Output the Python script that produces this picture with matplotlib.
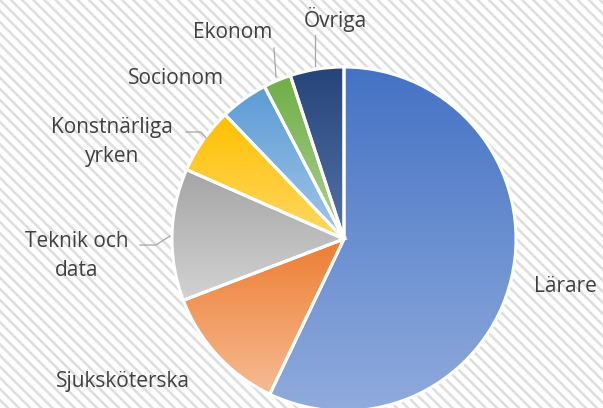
import matplotlib.pyplot as plt
import numpy as np
from matplotlib.colors import to_rgb
from matplotlib.patches import Rectangle

W, H = 603, 408

labels = ['Lärare', 'Sjuksköterska', 'Teknik och\ndata', 'Konstnärliga\nyrken',
          'Socionom', 'Ekonom', 'Övriga']
values = [57.1, 12.1, 12.4, 6.25, 4.5, 2.6, 5.05]
top_colors = ['#4472C4', '#ED7D31', '#A5A5A5', '#FFC000', '#5B9BD5', '#70AD47', '#264478']
bottom_colors = ['#90ABDD', '#F6BB93', '#D2D2D2', '#FFD865', '#A2C6E8', '#ADD293', '#5573AB']

# label positions in pixels (x, y from top) and leader lines
label_pos = [(565, 287), (123, 382), (77, 256), (112, 142), (176, 79), (233, 33), (335, 20)]
leaders = {
    2: [(140, 245), (156, 245), (170, 236)],
    3: [(186, 132), (201, 132), (206, 138)],
    5: [(274, 48), (276, 77)],
    6: [(315, 35), (315, 66)],
}

plt.rcParams['font.family'] = ['Open Sans', 'DejaVu Sans']
plt.rcParams['hatch.linewidth'] = 1.8

fig = plt.figure(figsize=(W / 100, H / 100), dpi=100)
ax = fig.add_axes([0, 0, 1, 1])

# striped background
bg = Rectangle((0, 0), W, H, facecolor='white', edgecolor='#dedede',
               hatch='\\\\\\', linewidth=0, zorder=0)
ax.add_patch(bg)

cx, cy, r = 344, H - 239, 172
wedges, _ = ax.pie(values, startangle=90, counterclock=False, center=(cx, cy),
                   radius=r, frame=True,
                   wedgeprops=dict(facecolor='none', edgecolor='white', linewidth=2.2))

for w, c0, c1 in zip(wedges, top_colors, bottom_colors):
    bb = w.get_path().get_extents(w.get_patch_transform())
    t = np.linspace(0, 1, 256)[:, None]
    grad = (1 - t) * np.array(to_rgb(c0)) + t * np.array(to_rgb(c1))
    grad = np.repeat(grad[:, None, :], 2, axis=1)
    im = ax.imshow(grad, extent=(bb.x0, bb.x1, bb.y0, bb.y1), origin='upper',
                   aspect='auto', zorder=1, interpolation='bilinear')
    im.set_clip_path(w)
    w.set_zorder(2)

ax.set_xlim(0, W)
ax.set_ylim(0, H)
ax.set_aspect('auto')
ax.axis('off')

for lab, (px, py) in zip(labels, label_pos):
    ax.text(px, H - py, lab, ha='center', va='center', fontsize=15,
            color='#404040', linespacing=1.5, zorder=3)

for pts in leaders.values():
    xs = [p[0] for p in pts]
    ys = [H - p[1] for p in pts]
    ax.plot(xs, ys, color='#a6a6a6', linewidth=0.9, zorder=3)

fig.savefig('out.png', dpi=100)
